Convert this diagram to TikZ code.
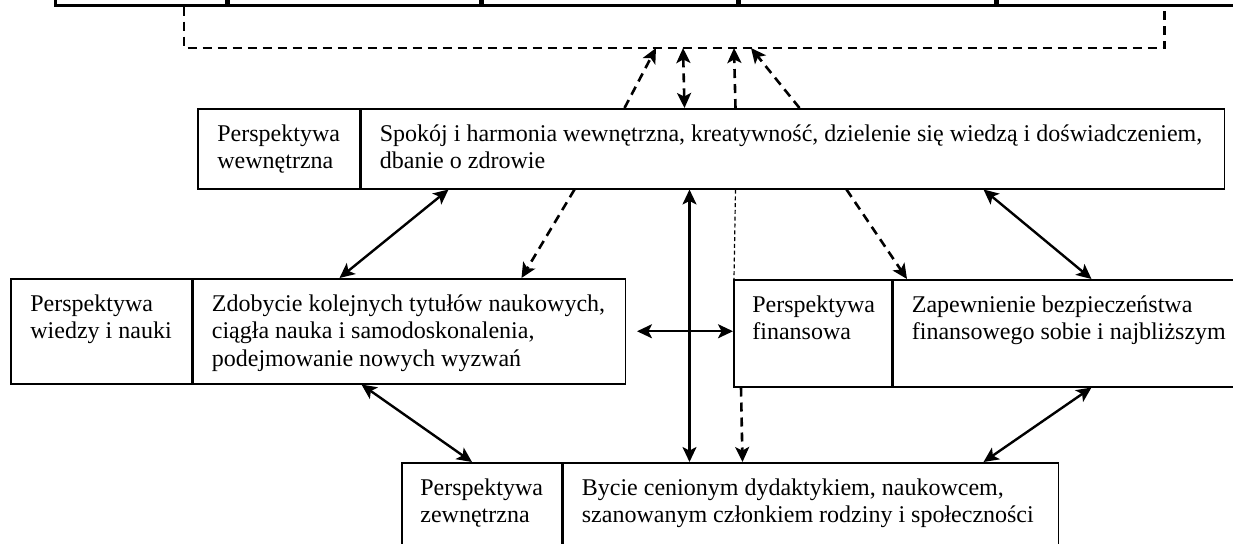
\documentclass[tikz,border=0pt]{standalone}
\usepackage{fontspec}
\setmainfont{Liberation Serif}
\usetikzlibrary{arrows.meta,calc}
\tikzset{
  wt/.tip={Stealth[length=7.5pt,width=7pt,inset=1.8pt]},
  cell/.style={draw, line width=0.75pt, inner sep=0pt, anchor=north west},
  topcell/.style={draw, line width=1.3pt, inner sep=0pt, anchor=north west, minimum height=40pt},
  txt/.style={anchor=north west, inner sep=0pt, align=left, font=\fontsize{12}{13.8}\selectfont},
  dbl/.style={{wt}-{wt}, line width=1.2pt},
  dashthick/.style={line width=1.3pt, dash pattern=on 4.5pt off 3pt},
  dashar/.style={-{wt}, line width=1.3pt, dash pattern=on 4.5pt off 3pt},
  dashdbl/.style={{wt}-{wt}, line width=1.3pt, dash pattern=on 4.5pt off 3pt},
  thindash/.style={line width=0.6pt, dash pattern=on 2pt off 1.4pt}
}
\begin{document}
\begin{tikzpicture}[x=0.5pt,y=-0.5pt]
\useasboundingbox (0,0) rectangle (1233,543);
\clip (0,0) rectangle (1233,543);
% top row of boxes (cut off)
\node[topcell, minimum width=85.5pt] (t1) at (54,-76) {};
\node[topcell, minimum width=125.5pt] (t2) at (t1.north east) {};
\node[topcell, minimum width=127.5pt] (t3) at (t2.north east) {};
\node[topcell, minimum width=127.5pt] (t4) at (t3.north east) {};
\node[topcell, minimum width=160pt] (t5) at (t4.north east) {};
% dashed frame
\coordinate (dA) at ($(t1.south west)+(130,0)$);
\coordinate (dB) at ($(t5.south west)+(168,0)$);
\coordinate (dl) at (0,48);
\draw[dashthick] (dA) |- (dB |- dl) -- (dB);
% inner box
\node[cell, minimum width=81pt, minimum height=40pt] (inL) at (197,108) {};
\node[cell, minimum width=431.5pt, minimum height=40pt] (inR) at (inL.north east) {};
\node[txt] (inLt) at ($(inL.north west)+(20,16)$) {Perspektywa\\wewnętrzna};
\node[txt] (inRt) at ($(inR.north west)+(19,16)$) {Spokój i harmonia wewnętrzna, kreatywność, dzielenie się wiedzą i doświadczeniem,\\dbanie o zdrowie};
% knowledge box
\node[cell, minimum width=90.5pt, minimum height=52.5pt] (kL) at (10,278) {};
\node[cell, minimum width=216pt, minimum height=52.5pt] (kR) at (kL.north east) {};
\node[txt] (kLt) at ($(kL.north west)+(20,16)$) {Perspektywa\\wiedzy i nauki};
\node[txt] (kRt) at ($(kR.north west)+(19,16)$) {Zdobycie kolejnych tytułów naukowych,\\ciągła nauka i samodoskonalenia,\\podejmowanie nowych wyzwań};
% financial box
\node[cell, minimum width=79pt, minimum height=53.5pt] (fL) at (733,279) {};
\node[cell, minimum width=200pt, minimum height=53.5pt] (fR) at (fL.north east) {};
\node[txt] (fLt) at ($(fL.north west)+(19,16)$) {Perspektywa\\finansowa};
\node[txt] (fRt) at ($(fR.north west)+(19,16)$) {Zapewnienie bezpieczeństwa\\finansowego sobie i najbliższym};
% external box
\node[cell, minimum width=80pt, minimum height=60pt] (zL) at (401,462) {};
\node[cell, minimum width=247.5pt, minimum height=60pt] (zR) at (zL.north east) {};
\node[txt] (zLt) at ($(zL.north west)+(19,16)$) {Perspektywa\\zewnętrzna};
\node[txt] (zRt) at ($(zR.north west)+(19,16)$) {Bycie cenionym dydaktykiem, naukowcem,\\szanowanym członkiem rodziny i społeczności};
% arrows to the dashed frame
\coordinate (a1) at ($(dA |- dl)+(472,0)$);
\coordinate (a2) at ($(dA |- dl)+(499,0)$);
\coordinate (a3) at ($(dA |- dl)+(550,0)$);
\coordinate (a4) at ($(dA |- dl)+(567,0)$);
\draw[dashar] ($(inR.north west)+(264,0)$) -- (a1);
\draw[dashdbl] ($(inR.north west)+(324,0)$) -- (a2);
\draw[dashar] ($(inR.north west)+(375,0)$) -- (a3);
\draw[dashar] ($(inR.north west)+(439,0)$) -- (a4);
% inner -- knowledge
\draw[dbl] ($(inR.south west)+(88,0)$) -- ($(kR.north west)+(147,0)$);
\draw[dashar] ($(inR.south west)+(214,0)$) -- ($(kR.north west)+(329,0)$);
% inner -- financial
\draw[dashar] ($(inR.south west)+(486,0)$) -- ($(fL.north west)+(174,0)$);
\draw[dbl] ($(inR.south west)+(623,0)$) -- ($(fR.north west)+(199,0)$);
% inner -- external
\draw[dbl] ($(inR.south west)+(329,0)$) -- ($(zR.north west)+(127,0)$);
\draw[thindash] ($(inR.south west)+(375,0)$) -- ($(fL.north west)+(1,0)$);
% financial -- external
\draw[dashar] ($(fL.south west)+(8,0)$) -- ($(zR.north west)+(180,0)$);
\draw[dbl] ($(fR.south west)+(199,0)$) -- ($(zR.north west)+(421,0)$);
% knowledge -- external
\draw[dbl] ($(kR.south west)+(169,0)$) -- ($(zL.north west)+(71,0)$);
% knowledge -- financial
\draw[dbl] ($(kR.east)+(11,0)$) -- (fL.west |- kR.east);
\end{tikzpicture}
\end{document}
